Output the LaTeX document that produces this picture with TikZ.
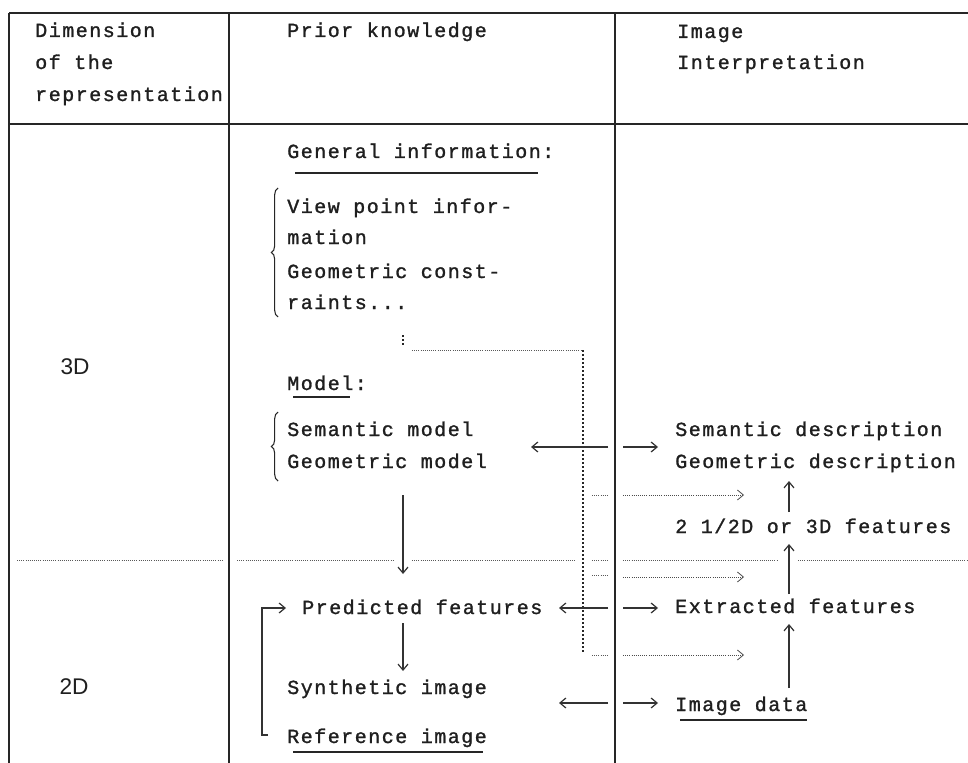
\documentclass[tikz,border=0pt]{standalone}
\usepackage{fontspec}
\newfontfamily\monofnt[LetterSpace=7.5,FakeBold=1.3]{Liberation Mono}
\newfontfamily\sansfnt{Liberation Sans}
\usetikzlibrary{arrows.meta,decorations.pathreplacing}
\begin{document}
\begin{tikzpicture}[x=0.75pt,y=-0.75pt,
  frame/.style={line width=1.0pt, draw=black!85},
  txt/.style={anchor=base west, inner sep=0pt, font=\monofnt\fontsize{15}{18}\selectfont, text=black!88},
  dimlbl/.style={inner sep=0pt, font=\sansfnt\fontsize{17}{20}\selectfont, text=black!88},
  arr/.style={line width=0.9pt, draw=black!80, -{Straight Barb[length=4.5pt,width=7.5pt]}},
  dotarr/.style={line width=0.6pt, draw=black!70, densely dotted, -{Straight Barb[length=4.5pt,width=7.5pt]}},
  dotln/.style={line width=0.6pt, draw=black!65, densely dotted},
  heavydot/.style={line width=1.5pt, draw=black!85, dash pattern=on 1.5pt off 1.5pt},
  uline/.style={line width=0.9pt, draw=black!85},
  brc/.style={line width=0.8pt, draw=black!85, decorate, decoration={brace, amplitude=5pt}}
]
\useasboundingbox (0,0) rectangle (968,763);
\fill[white] (0,0) rectangle (968,763);

% ---- frame ----
\coordinate (tl) at (9,13);
\coordinate (tr) at (968,13);
\coordinate (bl) at (9,763);
\coordinate (d1t) at (229,13);
\coordinate (d1b) at (229,763);
\coordinate (d2t) at (615,13);
\coordinate (d2b) at (615,763);
\coordinate (hl) at (9,124);
\coordinate (hr) at (968,124);
\draw[frame] (tl) -- (tr);
\draw[frame] (tl) -- (bl);
\draw[frame] (d1t) -- (d1b);
\draw[frame] (d2t) -- (d2b);
\draw[frame] (hl) -- (hr);

% ---- header ----
\node[txt] (h1a) at (35,37) {Dimension};
\node[txt] (h1b) at (35,69) {of the};
\node[txt] (h1c) at (35,101) {representation};
\node[txt] (h2) at (287,37) {Prior knowledge};
\node[txt] (h3a) at (677,38) {Image};
\node[txt] (h3b) at (677,69) {Interpretation};

% ---- left column ----
\node[dimlbl] (d3) at (75,367) {3D};
\node[dimlbl] (d2) at (74,687) {2D};

% ---- 3D / 2D separator (dotted) ----
\coordinate (s1a) at (17,560);  \coordinate (s1b) at (222,560);
\coordinate (s2a) at (237,560); \coordinate (s2b) at (393,560);
\coordinate (s3a) at (412,560); \coordinate (s3b) at (575,560);
\coordinate (s4a) at (592,560); \coordinate (s4b) at (607,560);
\coordinate (s5a) at (623,560); \coordinate (s5b) at (778,560);
\coordinate (s6a) at (798,560); \coordinate (s6b) at (968,560);
\draw[dotln] (s1a) -- (s1b);
\draw[dotln] (s2a) -- (s2b);
\draw[dotln] (s3a) -- (s3b);
\draw[dotln] (s4a) -- (s4b);
\draw[dotln] (s5a) -- (s5b);
\draw[dotln] (s6a) -- (s6b);

% ---- prior knowledge column ----
\node[txt] (gen) at (287,158) {General information:};
\draw[uline] (295,173) -- (538,173);
\node[txt] (vp1) at (287,213) {View point infor-};
\node[txt] (vp2) at (287,244) {mation};
\node[txt] (gc1) at (287,278) {Geometric const-};
\node[txt] (gc2) at (287,309) {raints...};
\draw[brc] (278,317) -- (278,188);

\draw[heavydot] (403,335) -- (403,345);
\coordinate (fbA) at (412,350);
\coordinate (fbB) at (583,350);
\coordinate (fbC) at (583,652);
\draw[dotln] (fbA) -- (fbB);
\draw[heavydot] (fbB) -- (fbC);

\node[txt] (model) at (287,390) {Model:};
\draw[uline] (293,397) -- (350,397);
\node[txt] (sm) at (287,436) {Semantic model};
\node[txt] (gm) at (287,468) {Geometric model};
\draw[brc] (278,481) -- (278,412);

\coordinate (la1s) at (608,447); \coordinate (la1e) at (531,447);
\draw[arr] (la1s) -- (la1e);

\coordinate (dm1s) at (403,495); \coordinate (dm1e) at (403,574);
\draw[arr] (dm1s) -- (dm1e);

\node[txt] (pf) at (302,614) {Predicted features};
\coordinate (la2s) at (608,608); \coordinate (la2e) at (559,608);
\draw[arr] (la2s) -- (la2e);

\coordinate (dm2s) at (403,623); \coordinate (dm2e) at (403,671);
\draw[arr] (dm2s) -- (dm2e);

\node[txt] (si) at (287,694) {Synthetic image};
\coordinate (la3s) at (608,703); \coordinate (la3e) at (559,703);
\draw[arr] (la3s) -- (la3e);

\node[txt] (ri) at (287,743) {Reference image};
\draw[uline] (293,752) -- (483,752);

\coordinate (fb1) at (268,735);
\coordinate (fb2) at (262,735);
\coordinate (fb3) at (262,608);
\coordinate (fb4) at (286,608);
\draw[arr] (fb1) -- (fb2) -- (fb3) -- (fb4);

% small dashes near the divider
\draw[dotln] (592,495) -- (607,495);
\draw[dotln] (592,575) -- (607,575);
\draw[dotln] (592,655) -- (607,655);

% ---- image interpretation column ----
\node[txt] (sd) at (675,436) {Semantic description};
\node[txt] (gd) at (675,468) {Geometric description};
\node[txt] (f3d) at (675,533) {2 1/2D or 3D features};
\node[txt] (ef) at (675,613) {Extracted features};
\node[txt] (id) at (675,711) {Image data};
\draw[uline] (680,720) -- (807,720);

\coordinate (ra1s) at (623,447); \coordinate (ra1e) at (658,447);
\coordinate (ra2s) at (623,608); \coordinate (ra2e) at (658,608);
\coordinate (ra3s) at (623,703); \coordinate (ra3e) at (658,703);
\draw[arr] (ra1s) -- (ra1e);
\draw[arr] (ra2s) -- (ra2e);
\draw[arr] (ra3s) -- (ra3e);

\coordinate (ua1s) at (789,512); \coordinate (ua1e) at (789,481);
\coordinate (ua2s) at (789,594); \coordinate (ua2e) at (789,544);
\coordinate (ua3s) at (789,688); \coordinate (ua3e) at (789,624);
\draw[arr] (ua1s) -- (ua1e);
\draw[arr] (ua2s) -- (ua2e);
\draw[arr] (ua3s) -- (ua3e);

\coordinate (da1s) at (623,495); \coordinate (da1e) at (744,495);
\coordinate (da2s) at (623,577); \coordinate (da2e) at (744,577);
\coordinate (da3s) at (623,655); \coordinate (da3e) at (744,655);
\draw[dotarr] (da1s) -- (da1e);
\draw[dotarr] (da2s) -- (da2e);
\draw[dotarr] (da3s) -- (da3e);
\end{tikzpicture}
\end{document}
